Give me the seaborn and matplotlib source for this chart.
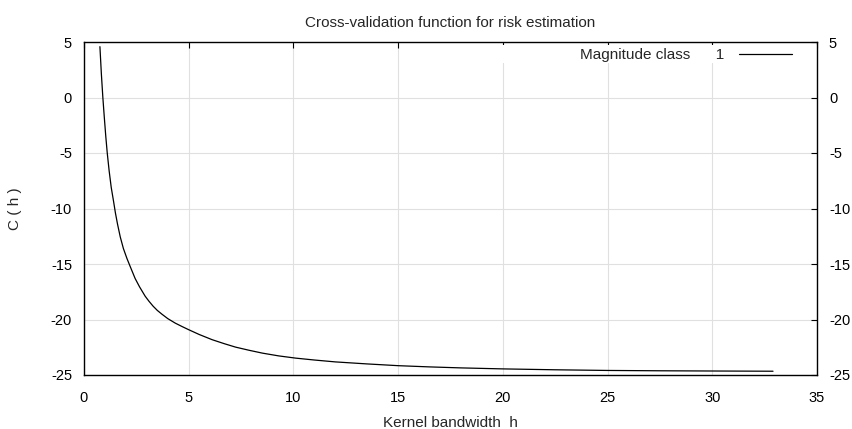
import matplotlib
matplotlib.use("Agg")
import matplotlib.pyplot as plt
import seaborn as sns
import pandas as pd
from matplotlib.patches import Rectangle

# Data
bandwidth_h = [0.76, 0.83, 0.90, 0.97, 1.04, 1.11, 1.20, 1.30, 1.41, 1.50, 1.60, 1.73,
               1.88, 2.05, 2.20, 2.44, 2.65, 2.92, 3.10, 3.30, 3.50, 3.72, 4.00, 4.36, 4.70, 5.00,
               5.50, 6.12, 6.70, 7.24, 7.90, 8.52, 9.30, 10.11, 11.0, 12.0, 13.5, 15.0,
               16.5, 18.0, 20.0, 22.5, 25.0, 27.5, 30.0, 32.9]
cv_value = [4.58, 2.10, 0.00, -1.80, -3.50, -5.00, -6.60, -8.10, -9.34, -10.40, -11.40, -12.55,
            -13.60, -14.50, -15.20, -16.30, -17.05, -17.90, -18.35, -18.80, -19.18, -19.52, -19.92, -20.33, -20.65, -20.92,
            -21.35, -21.82, -22.18, -22.49, -22.78, -23.03, -23.28, -23.48, -23.65, -23.82, -24.00, -24.16,
            -24.27, -24.36, -24.45, -24.53, -24.59, -24.62, -24.64, -24.66]
series_label = "Magnitude class      1"
x_ticks = [0, 5, 10, 15, 20, 25, 30, 35]
y_ticks = [-25, -20, -15, -10, -5, 0, 5]

sns.set_style("white")
plt.rcParams['font.family'] = ['Liberation Sans', 'DejaVu Sans']
plt.rcParams['axes.unicode_minus'] = False

W, H = 852, 429
fig = plt.figure(figsize=(W / 100, H / 100), dpi=100)
L, R, T, B = 84, 817, 42, 375
ax = fig.add_axes([L / W, 1 - B / H, (R - L) / W, (B - T) / H])

df = pd.DataFrame({"h": bandwidth_h, "C": cv_value})
sns.lineplot(data=df, x="h", y="C", color="black", linewidth=0.9, ax=ax,
             label=series_label, zorder=3)

ax.set_xlim(0, 35)
ax.set_ylim(-25, 5)
ax.set_xticks(x_ticks)
ax.set_yticks(y_ticks)
ax.set_axisbelow(True)
ax.grid(True, color="#e0e0e0", linewidth=0.8)

for s in ax.spines.values():
    s.set_color("black")
    s.set_linewidth(1.0)
    s.set_visible(True)

ax.tick_params(axis="both", direction="in", length=4.5, width=0.8, colors="black",
               labelsize=10.5, top=True, right=True, labelright=True)
ax.tick_params(axis="y", pad=8.6)
ax.tick_params(axis="x", pad=11.5)

# blank area behind the key (as gnuplot does)
ax.add_patch(Rectangle(((480 - L) / (R - L), 1 - (62.5 - T) / (B - T)),
                       1 - (480 - L) / (R - L), (62.5 - 45) / (B - T),
                       transform=ax.transAxes, facecolor="white", edgecolor="none", zorder=1))

ax.set_title("Cross-validation function for risk estimation", fontsize=11, pad=10.6)
ax.set_xlabel("Kernel bandwidth  h", fontsize=11, labelpad=8)
ax.set_ylabel("C ( h )", fontsize=11, labelpad=21)

leg = ax.legend(loc="center right",
                bbox_to_anchor=((792 - L) / (R - L), 1 - (55.5 - T) / (B - T)),
                frameon=False, markerfirst=False, fontsize=11,
                handlelength=3.5, handletextpad=0.96, borderpad=0, borderaxespad=0)
for line in leg.get_lines():
    line.set_linewidth(0.9)

fig.savefig("out.png", dpi=100)
